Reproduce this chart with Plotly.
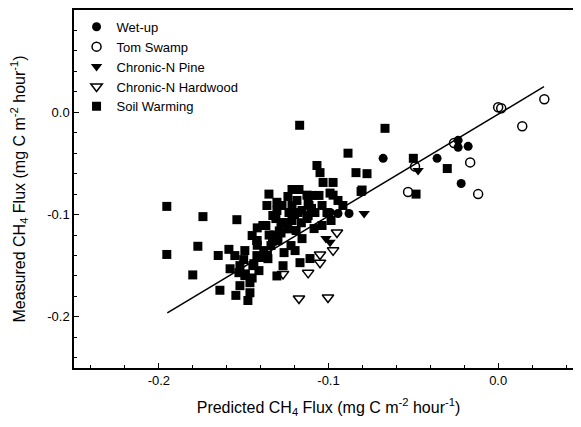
import plotly.graph_objects as go

# ---------------- data ----------------
wet_x = [-0.0678, -0.036, -0.0236, -0.0236, -0.0177, -0.0218, -0.0879, -0.0944, -0.099]
wet_y = [-0.045, -0.045, -0.0274, -0.0343, -0.0333, -0.0696, -0.099, -0.099, -0.098]

tom_x = [0.0, 0.0018, 0.0272, 0.0142, -0.026, -0.0165, -0.0118, -0.0531, -0.049]
tom_y = [0.0049, 0.0039, 0.0127, -0.0137, -0.030, -0.049, -0.080, -0.078, -0.053]

pine_x = [-0.0472, -0.079, -0.1015, -0.0991]
pine_y = [-0.057, -0.099, -0.1235, -0.127]

hard_x = [-0.095, -0.0973, -0.105, -0.105, -0.112, -0.1268, -0.1174, -0.1003]
hard_y = [-0.1176, -0.135, -0.139, -0.147, -0.157, -0.158, -0.182, -0.181]

soil_x = [-0.117, -0.0885, -0.0667, -0.050, -0.030, -0.0484, -0.0838, -0.0773, -0.0802,
          -0.1068, -0.105, -0.1032, -0.0973, -0.0991, -0.0973, -0.1351, -0.1215, -0.1174,
          -0.1127, -0.112, -0.1304, -0.1953, -0.174, -0.154, -0.177, -0.1953, -0.165,
          -0.1587, -0.180, -0.158, -0.164, -0.1546, -0.1475, -0.145, -0.142, -0.1268,
          -0.1304, -0.1168, -0.1109, -0.0808,
          -0.1522, -0.1493, -0.1463, -0.1522, -0.1446, -0.1422, -0.1493, -0.1422, -0.1463,
          -0.1528, -0.1410, -0.1552,
          -0.1381, -0.1339, -0.1298, -0.1369, -0.1310, -0.1251, -0.1221, -0.1262, -0.1357,
          -0.1280, -0.1215, -0.1191, -0.1387, -0.1328, -0.1422, -0.1233, -0.1156, -0.1197,
          -0.1156, -0.1115, -0.1080, -0.1038, -0.1009, -0.1097, -0.1056, -0.1186, -0.1127,
          -0.1215, -0.1274, -0.1304, -0.1363, -0.1239, -0.0915, -0.0944, -0.0985, -0.1038,
          -0.1085,
          -0.1490, -0.1440, -0.1400, -0.1360, -0.1320, -0.1280, -0.1240, -0.1200, -0.1160,
          -0.1120, -0.1500, -0.1450, -0.1350, -0.1290, -0.1180, -0.1100, -0.1420, -0.1330]
soil_y = [-0.0127, -0.040, -0.0157, -0.045, -0.055, -0.080, -0.059, -0.060, -0.076,
          -0.052, -0.059, -0.0686, -0.0686, -0.079, -0.081, -0.080, -0.0755, -0.0755,
          -0.081, -0.088, -0.088, -0.092, -0.102, -0.105, -0.131, -0.139, -0.140,
          -0.134, -0.159, -0.153, -0.174, -0.179, -0.184, -0.1205, -0.113, -0.150,
          -0.160, -0.147, -0.143, -0.0774,
          -0.1695, -0.1597, -0.1666, -0.1499, -0.1499, -0.1401, -0.1352, -0.1254, -0.1764,
          -0.1568, -0.1548, -0.1401,
          -0.1352, -0.1303, -0.1254, -0.1107, -0.1039, -0.1078, -0.1303, -0.1372, -0.1431,
          -0.1078, -0.1058, -0.1156, -0.1107, -0.1009, -0.1254, -0.0980, -0.1235, -0.1352,
          -0.0960, -0.0911, -0.0980, -0.0911, -0.0980, -0.0813, -0.0813, -0.0862, -0.1039,
          -0.0911, -0.0911, -0.0960, -0.0911, -0.0823, -0.0911, -0.0862, -0.1058, -0.1107,
          -0.1137,
          -0.1580, -0.1480, -0.1420, -0.1400, -0.1200, -0.1180, -0.1140, -0.1000, -0.1080,
          -0.1010, -0.1440, -0.1620, -0.1200, -0.1160, -0.0980, -0.0940, -0.1300, -0.1260]

fit_x = [-0.195, 0.027]
fit_y = [-0.196, 0.025]

x_tickvals = [-0.2, -0.1, 0.0]
x_ticktext = ["-0.2", "-0.1", "0.0"]
y_tickvals = [-0.2, -0.1, 0.0, 0.1]
y_ticktext = ["-0.2", "-0.1", "0.0", "0.1"]

# ---------------- figure ----------------
fig = go.Figure()

fig.add_trace(go.Scatter(x=fit_x, y=fit_y, mode="lines", showlegend=False,
                         line=dict(color="black", width=1.5)))

fig.add_trace(go.Scatter(x=soil_x, y=soil_y, mode="markers", name="Soil Warming",
                         marker=dict(symbol="square", size=9, color="black"),
                         legendrank=5))
fig.add_trace(go.Scatter(x=hard_x, y=hard_y, mode="markers", name="Chronic-N Hardwood",
                         marker=dict(symbol="triangle-down-open", size=10, color="black",
                                     line=dict(width=1.5, color="black")),
                         legendrank=4))
fig.add_trace(go.Scatter(x=pine_x, y=pine_y, mode="markers", name="Chronic-N Pine",
                         marker=dict(symbol="triangle-down", size=10, color="black"),
                         legendrank=3))
fig.add_trace(go.Scatter(x=tom_x, y=tom_y, mode="markers", name="Tom Swamp",
                         marker=dict(symbol="circle-open", size=9, color="black",
                                     line=dict(width=1.5, color="black")),
                         legendrank=2))
fig.add_trace(go.Scatter(x=wet_x, y=wet_y, mode="markers", name="Wet-up",
                         marker=dict(symbol="circle", size=9, color="black"),
                         legendrank=1))

axis_common = dict(
    showgrid=False, zeroline=False, showline=True, linecolor="black", linewidth=1.5,
    ticks="inside", ticklen=5, tickwidth=1.2, tickcolor="black",
    tickfont=dict(size=13, color="black"),
    tickmode="array", automargin=False,
)

# the page body adds an 8px offset, so the margins are reduced by 8px on left/top
fig.update_layout(
    width=581, height=427,
    margin=dict(l=66, r=6, t=2, b=67),
    paper_bgcolor="white", plot_bgcolor="white",
    font=dict(family="Liberation Sans, Arial, sans-serif", size=13, color="black"),
    showlegend=True,
    legend=dict(x=0.005, y=0.995, xanchor="left", yanchor="top",
                bgcolor="rgba(0,0,0,0)", borderwidth=0,
                font=dict(size=13), traceorder="normal"),
    xaxis=dict(
        axis_common, range=[-0.25, 0.05], mirror=True,
        tickvals=x_tickvals, ticktext=x_ticktext,
        minor=dict(dtick=0.02, tick0=0, ticks="inside", ticklen=3, tickcolor="black", showgrid=False),
        title=dict(text="Predicted CH<sub>4</sub> Flux (mg C m<sup>-2</sup> hour<sup>-1</sup>)",
                   font=dict(size=16), standoff=14),
    ),
    yaxis=dict(
        axis_common, range=[-0.25, 0.1],
        tickvals=y_tickvals, ticktext=y_ticktext,
        minor=dict(dtick=0.02, tick0=0, ticks="inside", ticklen=3, tickcolor="black", showgrid=False),
        title=dict(text="Measured CH<sub>4</sub> Flux (mg C m<sup>-2</sup> hour<sup>-1</sup>)",
                   font=dict(size=16), standoff=18),
    ),
)

fig.write_html("out.html")
